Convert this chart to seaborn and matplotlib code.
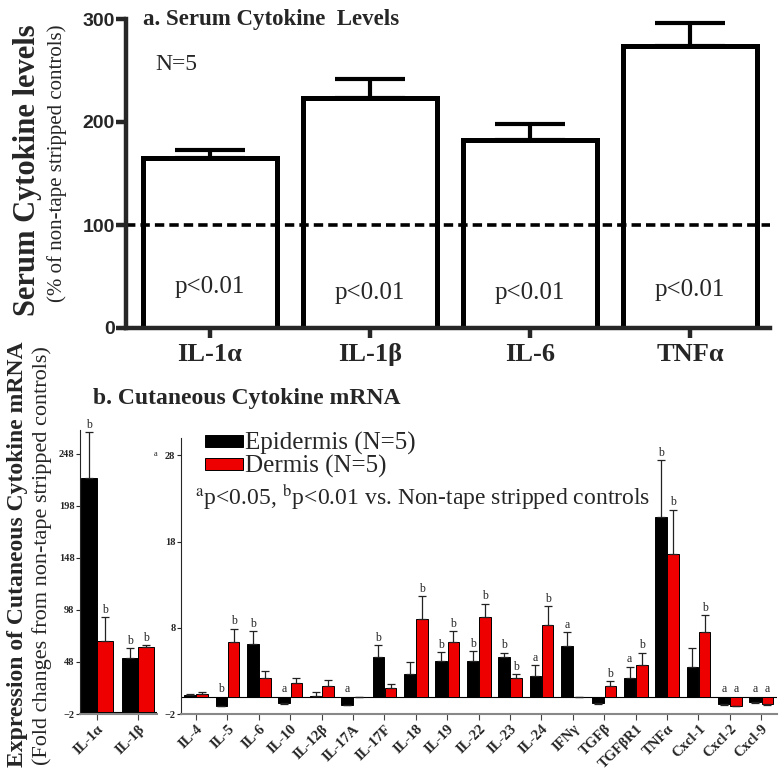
import numpy as np
import pandas as pd
import seaborn as sns
import matplotlib.pyplot as plt

# ---- panel a: serum cytokines (% of non-tape stripped controls)
serum_labels = ['IL-1α', 'IL-1β', 'IL-6', 'TNFα']
serum_mean = [165, 223, 183, 274]
serum_sem = [8, 19, 15, 22]
serum_p_y = [40, 34, 34, 37]

# ---- panel b (left): IL-1 fold changes
il1_labels = ['IL-1α', 'IL-1β']
il1_epi = [225, 52]
il1_epi_sem = [44, 9]
il1_derm = [68, 62]
il1_derm_sem = [23, 2]
il1_epi_sig = ['b', 'b']
il1_derm_sig = ['b', 'b']

# ---- panel b (right): other cytokines
mrna_labels = ['IL-4', 'IL-5', 'IL-6', 'IL-10', 'IL-12β', 'IL-17A', 'IL-17F',
               'IL-18', 'IL-19', 'IL-22', 'IL-23', 'IL-24', 'IFNγ', 'TGFβ',
               'TGFβR1', 'TNFα', 'Cxcl-1', 'Cxcl-2', 'Cxcl-9']
epi = [0.2, -1.1, 6.1, -0.7, 0.1, -1.0, 4.6, 2.6, 4.2, 4.1, 4.6, 2.4, 5.9,
       -0.7, 2.2, 20.8, 3.4, -0.85, -0.6]
epi_sem = [0.1, 0.0, 1.5, 0.1, 0.4, 0.0, 1.4, 1.4, 1.0, 1.2, 0.5, 1.3, 1.6,
           0.1, 1.3, 6.6, 2.3, 0.1, 0.1]
derm = [0.3, 6.3, 2.2, 1.6, 1.3, 0.0, 1.0, 9.0, 6.3, 9.2, 2.2, 8.3, 0.0,
        1.3, 3.7, 16.6, 7.5, -1.1, -0.85]
derm_sem = [0.3, 1.6, 0.8, 0.6, 0.6, 0.0, 0.5, 2.7, 1.3, 1.6, 0.4, 2.2, 0.0,
            0.5, 1.4, 5.1, 2.0, 0.0, 0.1]
epi_sig = ['', 'b', 'b', 'a', '', 'a', 'b', '', 'b', 'b', 'b', 'a', 'a', '',
           'a', 'b', '', 'a', 'a']
derm_sig = ['', 'b', '', '', '', '', '', 'b', 'b', 'b', 'b', 'b', '', 'b',
            'b', 'b', 'b', 'a', 'a']

tissues = ['Epidermis (N=5)', 'Dermis (N=5)']
tissue_colors = ['black', '#ee0000']

sns.set_style('ticks')
plt.rcParams['font.family'] = ['Liberation Serif', 'DejaVu Serif']
plt.rcParams['mathtext.fontset'] = 'stix'

fig = plt.figure(figsize=(7.84, 7.77), dpi=100)
W, H = 784, 777


def box(x0, y0, x1, y1):
    # pixel box (top-left origin) -> figure fraction rect
    return [x0 / W, 1 - y1 / H, (x1 - x0) / W, (y1 - y0) / H]


# ================= panel a =================
ax1 = fig.add_axes(box(126, 19, 770, 328))
serum = pd.DataFrame({'cytokine': serum_labels, 'level': serum_mean})
sns.barplot(data=serum, x='cytokine', y='level', ax=ax1, color='white',
            edgecolor='black', linewidth=3.6, width=0.84, saturation=1)
xs = [b.get_x() + b.get_width() / 2 for b in ax1.patches]
ax1.errorbar(xs, serum_mean, yerr=[np.zeros(4), serum_sem], fmt='none',
             ecolor='black', elinewidth=3, capsize=25, capthick=3)
ax1.axhline(100, color='black', lw=2.6, ls=(0, (2.6, 1.4)))
for x, y in zip(xs, serum_p_y):
    ax1.text(x, y, 'p<0.01', ha='center', va='center', fontsize=18)
ax1.set_xlim(-0.525, 3.5)
ax1.set_ylim(0, 300)
ax1.set_yticks([0, 100, 200, 300])
ax1.set_xlabel('')
ax1.set_ylabel('')
sns.despine(ax=ax1)
for s in ['left', 'bottom']:
    ax1.spines[s].set_linewidth(3.2)
ax1.tick_params(axis='both', length=7, width=3.2)
ax1.tick_params(axis='y', pad=1)
for t in ax1.get_yticklabels():
    t.set_fontfamily('Liberation Sans')
    t.set_fontweight('bold')
    t.set_fontsize(14)
for t in ax1.get_xticklabels():
    t.set_fontweight('bold')
    t.set_fontsize(19)

fig.text(143 / W, 1 - 20 / H, 'a. Serum Cytokine  Levels', fontsize=16.5,
         fontweight='bold', va='center', ha='left')
fig.text(155 / W, 1 - 65 / H, 'N=5', fontsize=17, va='center', ha='left')
fig.text(28 / W, 1 - 170 / H, 'Serum Cytokine levels', rotation=90,
         fontsize=22, fontweight='bold', ha='center', va='center')
fig.text(57 / W, 1 - 163 / H, '(% of non-tape stripped controls)',
         rotation=90, fontsize=15, ha='center', va='center')


# ================= panel b helpers =================
def grouped_bars(ax, labels, e, es, d, ds, e_sig, d_sig, off, gap):
    df = pd.DataFrame({
        'cytokine': labels * 2,
        'tissue': [tissues[0]] * len(labels) + [tissues[1]] * len(labels),
        'fold': list(e) + list(d),
    })
    sns.barplot(data=df, x='cytokine', y='fold', hue='tissue', ax=ax,
                palette=tissue_colors, edgecolor='black', linewidth=0.7,
                width=0.78, gap=gap, saturation=1, legend=True)
    for cont, vals, errs, sig in zip(ax.containers, [e, d], [es, ds],
                                     [e_sig, d_sig]):
        xs = [b.get_x() + b.get_width() / 2 for b in cont]
        vals = np.array(vals)
        errs = np.array(errs)
        lo = np.where(vals < 0, errs, 0)
        hi = np.where(vals >= 0, errs, 0)
        ax.errorbar(xs, vals, yerr=[lo, hi], fmt='none', ecolor='#222222',
                    elinewidth=0.9, capsize=3, capthick=0.9)
        for x, v, er, s in zip(xs, vals, errs, sig):
            if s:
                y = v + er + off if v >= 0 else off
                ax.text(x, y, s, ha='center', va='bottom', fontsize=8.5)
    ax.axhline(0, color='black', lw=0.8, zorder=0.5)
    ax.set_xlabel('')
    ax.set_ylabel('')
    sns.despine(ax=ax)
    ax.spines['left'].set_linewidth(0.8)
    ax.spines['bottom'].set_color('#888888')
    ax.spines['bottom'].set_linewidth(1.5)
    ax.tick_params(axis='x', length=4, width=0.8, color='#444444', pad=2)
    ax.tick_params(axis='y', length=3, width=0.8, pad=1)
    ax.set_xticks(range(len(labels)))
    ax.set_xticklabels(labels, rotation=45, ha='right', rotation_mode='anchor',
                       fontsize=10.5, fontweight='bold')
    for t in ax.get_yticklabels():
        t.set_fontweight('bold')
        t.set_fontsize(7.5)


# left: IL-1
ax2 = fig.add_axes(box(80, 430, 157, 714))
grouped_bars(ax2, il1_labels, il1_epi, il1_epi_sem, il1_derm, il1_derm_sem,
             il1_epi_sig, il1_derm_sig, off=1, gap=0.03)
ax2.legend_.remove()
ax2.set_xlim(-0.41, 1.46)
ax2.set_ylim(-2, 271)
ax2.set_yticks([-2, 48, 98, 148, 198, 248])

# right: remaining cytokines
ax3 = fig.add_axes(box(181, 438, 777, 714))
grouped_bars(ax3, mrna_labels, epi, epi_sem, derm, derm_sem,
             epi_sig, derm_sig, off=0.15, gap=0.05)
ax3.set_xlim(-0.48, 18.5)
ax3.set_ylim(-2, 30)
ax3.set_yticks([-2, 8, 18, 28])
leg = ax3.legend(loc='upper left', bbox_to_anchor=(205 / W, 1 - 432 / H),
                 bbox_transform=fig.transFigure, frameon=False,
                 prop={'family': 'Liberation Serif', 'size': 18},
                 handlelength=1.5, handleheight=0.35, handletextpad=0.1,
                 labelspacing=0.0, borderpad=0, borderaxespad=0)
for t in leg.get_texts():
    t.set_fontfamily(['Liberation Serif', 'DejaVu Serif'])

fig.text(195 / W, 1 - 497 / H,
         r'$^{\rm a}$p<0.05, $^{\rm b}$p<0.01 vs. Non-tape stripped controls',
         fontsize=17, ha='left', va='center')
fig.text(156 / W, 1 - 454 / H, 'a', fontsize=6, ha='center', va='center')

fig.text(93 / W, 1 - 398 / H, 'b. Cutaneous Cytokine mRNA', fontsize=17,
         fontweight='bold', ha='left', va='center')
fig.text(18 / W, 1 - 554 / H, 'Expression of Cutaneous Cytokine mRNA',
         rotation=90, fontsize=17, fontweight='bold', ha='center', va='center')
fig.text(42 / W, 1 - 556 / H, '(Fold changes from non-tape stripped controls)',
         rotation=90, fontsize=16, ha='center', va='center')

fig.savefig('out.png', dpi=100)
